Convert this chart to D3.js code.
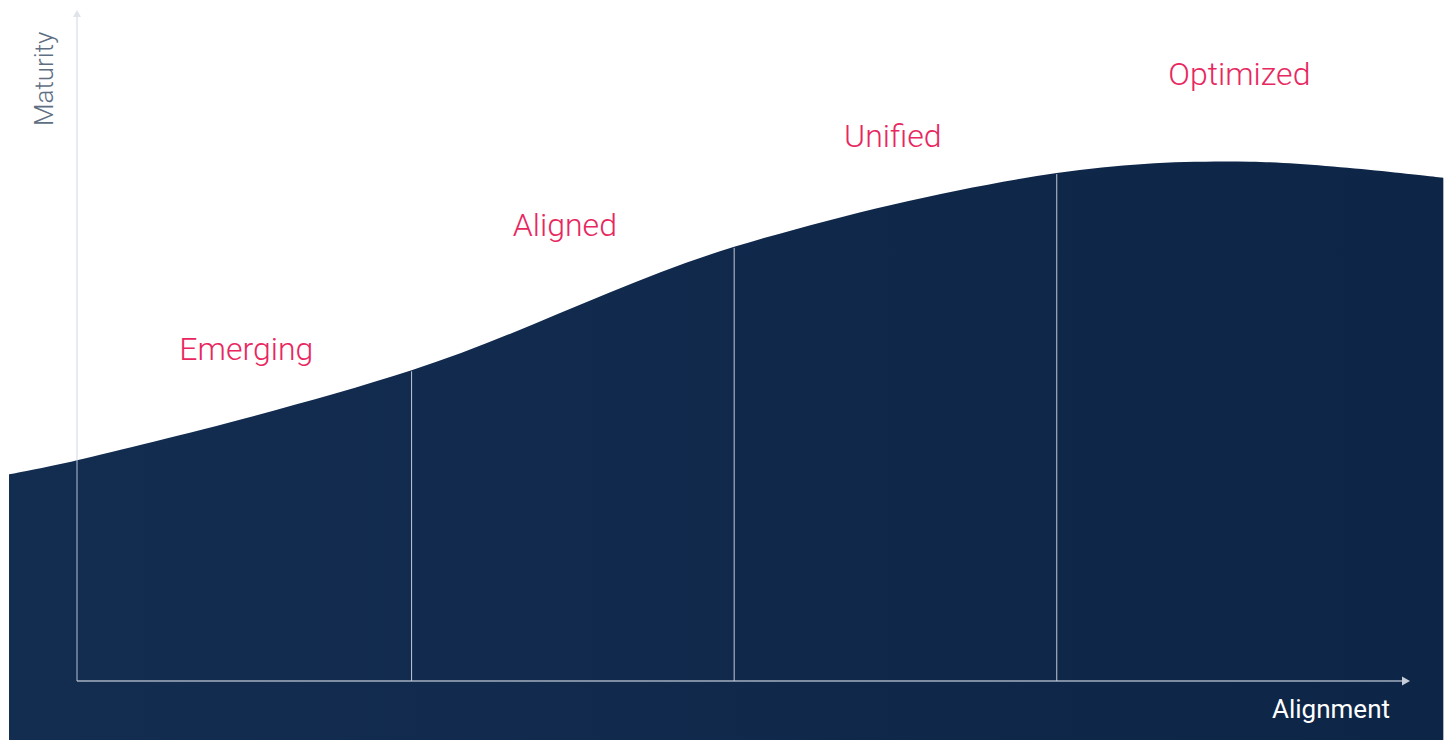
<!DOCTYPE html>
<html>
<head>
<meta charset="utf-8">
<script src="https://cdn.jsdelivr.net/npm/d3@7"></script>
<style>
  html, body { margin: 0; padding: 0; background: #fff; }
  svg { display: block; font-family: Roboto, "Open Sans", sans-serif; }
</style>
</head>
<body>
<svg width="1450" height="740"></svg>
<script>
// curve of maturity over alignment (0-100 both axes)
var alignment = [-5.1, 0, 25.1, 49.3, 73.5, 88, 102.5];
var maturity  = [30.8, 32.9, 46.3, 64.7, 75.7, 77.4, 75.0];

var stages = ["Emerging", "Aligned", "Unified", "Optimized"];
var stageEdges = [0, 25.1, 49.3, 73.5, 100];
var labelAlignment = [12.7, 36.6, 61.2, 87.2];
var labelMaturity = [47.8, 66.3, 79.6, 88.8];

var svg = d3.select("svg");

var x = d3.scaleLinear().domain([0, 100]).range([77, 1410]);
var y = d3.scaleLinear().domain([0, 100]).range([681, 10]);

var pts = alignment.map(function (a, i) { return [a, maturity[i]]; });

// background gradient
var defs = svg.append("defs");
var grad = defs.append("linearGradient").attr("id", "fillGrad")
    .attr("x1", "0%").attr("x2", "100%").attr("y1", "0%").attr("y2", "0%");
grad.append("stop").attr("offset", "0%").attr("stop-color", "#132d51");
grad.append("stop").attr("offset", "100%").attr("stop-color", "#0d2546");

var area = d3.area()
    .x(function (d) { return x(d[0]); })
    .y0(y(-9))
    .y1(function (d) { return y(d[1]); })
    .curve(d3.curveCatmullRom.alpha(0.5));

svg.append("path")
    .datum(pts)
    .attr("d", area)
    .attr("fill", "url(#fillGrad)");

// stage dividers (inner edges)
var inner = stageEdges.slice(1, -1);
svg.append("g").selectAll("line")
    .data(inner)
    .join("line")
    .attr("x1", function (d) { return x(d); })
    .attr("x2", function (d) { return x(d); })
    .attr("y1", y(0))
    .attr("y2", function (d) {
        var i = alignment.indexOf(d);
        return y(maturity[i]) + 1;
    })
    .attr("stroke", "rgba(255,255,255,0.75)")
    .attr("stroke-width", 1);

// axes
var axisColor = "rgba(200,208,220,0.6)";
var axes = svg.append("g");
axes.append("line")
    .attr("x1", x(0)).attr("x2", x(0))
    .attr("y1", y(0)).attr("y2", y(100) + 6)
    .attr("stroke", axisColor).attr("stroke-width", 1.5);
axes.append("path")
    .attr("d", d3.line()([[x(0) - 4, y(100) + 7], [x(0), y(100)], [x(0) + 4, y(100) + 7]]))
    .attr("fill", "#dfe3ea");

axes.append("line")
    .attr("x1", x(0)).attr("x2", x(100) - 6)
    .attr("y1", y(0)).attr("y2", y(0))
    .attr("stroke", axisColor).attr("stroke-width", 2);
axes.append("path")
    .attr("d", d3.line()([[x(100) - 8, y(0) - 4.5], [x(100), y(0)], [x(100) - 8, y(0) + 4.5]]))
    .attr("fill", "#c6cdd8");

// axis titles
svg.append("text")
    .attr("transform", "translate(53," + 126 + ") rotate(-90)")
    .attr("fill", "#5e6e83")
    .attr("font-size", 26)
    .attr("font-weight", 300)
    .text("Maturity");

svg.append("text")
    .attr("x", 1390).attr("y", 718)
    .attr("text-anchor", "end")
    .attr("fill", "#ffffff")
    .attr("font-size", 26)
    .attr("font-weight", 400)
    .text("Alignment");

// stage labels
svg.append("g").selectAll("text")
    .data(stages)
    .join("text")
    .attr("x", function (d, i) { return x(labelAlignment[i]); })
    .attr("y", function (d, i) { return y(labelMaturity[i]); })
    .attr("text-anchor", "middle")
    .attr("fill", "#e8275f")
    .attr("font-size", 32)
    .attr("font-weight", 300)
    .text(function (d) { return d; });
</script>
</body>
</html>
